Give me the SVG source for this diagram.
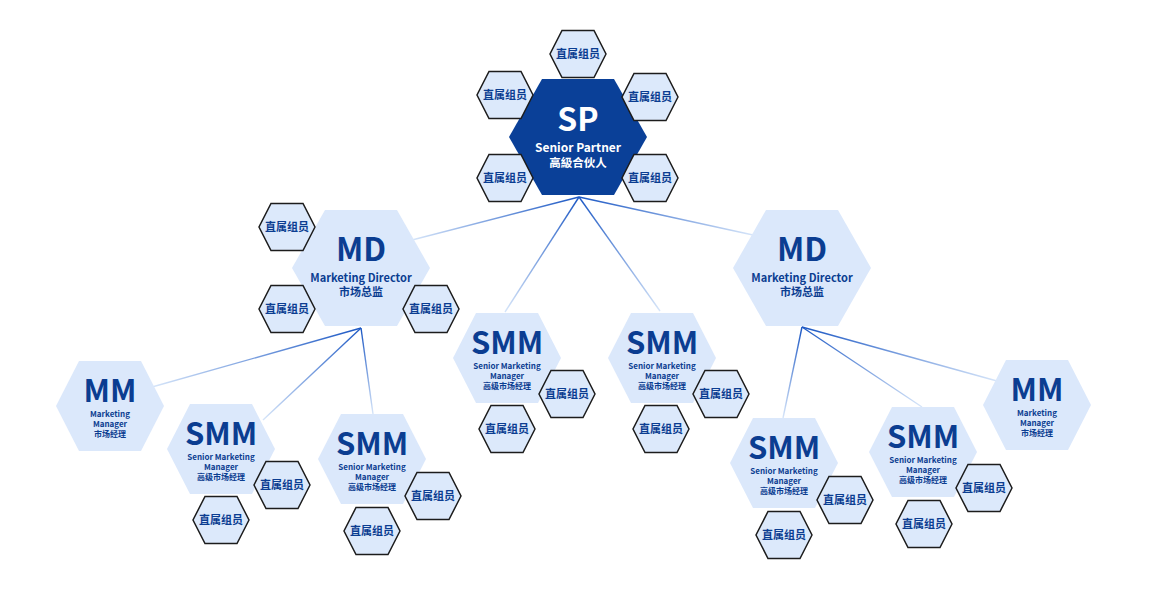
<svg xmlns="http://www.w3.org/2000/svg" xmlns:xlink="http://www.w3.org/1999/xlink" width="1154" height="592" viewBox="0 0 1154 592">
<style>
  .bg{fill:#ffffff}
  .lt{fill:#dbe8fb}
  .dk{fill:#0a4098}
  .sm{fill:#dce9fb;stroke:#1c1c1c;stroke-width:1.5}
  text{font-family:"Noto Sans CJK SC","Noto Sans",sans-serif;font-weight:700;text-anchor:middle}
  .big{font-size:32px;fill:#0b3d91}
  .mid{font-size:31px;fill:#0b3d91}
  .sub{font-size:11px;fill:#0b3d91}
  .tiny{font-size:8px;fill:#0b3d91}
  .w{fill:#ffffff}
  .st{font-size:11px;fill:#0b3d91}
  .cn{fill:none;stroke-width:1.4}
</style>
<defs>
  <polygon id="hL" points="69,0 36,58 -36,58 -69,0 -36,-58 36,-58"/>
  <polygon id="hM" points="54,0 31,45 -31,45 -54,0 -31,-45 31,-45"/>
  <polygon id="hS" points="28,0 16,23.5 -16,23.5 -28,0 -16,-23.5 16,-23.5"/>
  <linearGradient id="g1" gradientUnits="userSpaceOnUse" x1="579" y1="197" x2="412" y2="240"><stop offset="0" stop-color="#1b57c4"/><stop offset="1" stop-color="#d6e5f9"/></linearGradient>
  <linearGradient id="g2" gradientUnits="userSpaceOnUse" x1="579" y1="197" x2="753" y2="235"><stop offset="0" stop-color="#1b57c4"/><stop offset="1" stop-color="#d6e5f9"/></linearGradient>
  <linearGradient id="g3" gradientUnits="userSpaceOnUse" x1="579" y1="197" x2="505" y2="312"><stop offset="0" stop-color="#1b57c4"/><stop offset="1" stop-color="#d6e5f9"/></linearGradient>
  <linearGradient id="g4" gradientUnits="userSpaceOnUse" x1="579" y1="197" x2="660" y2="311"><stop offset="0" stop-color="#1b57c4"/><stop offset="1" stop-color="#d6e5f9"/></linearGradient>
  <linearGradient id="g5" gradientUnits="userSpaceOnUse" x1="361" y1="328" x2="152" y2="387"><stop offset="0" stop-color="#1b57c4"/><stop offset="1" stop-color="#d6e5f9"/></linearGradient>
  <linearGradient id="g6" gradientUnits="userSpaceOnUse" x1="361" y1="328" x2="263" y2="420"><stop offset="0" stop-color="#1b57c4"/><stop offset="1" stop-color="#d6e5f9"/></linearGradient>
  <linearGradient id="g7" gradientUnits="userSpaceOnUse" x1="361" y1="328" x2="373" y2="414"><stop offset="0" stop-color="#1b57c4"/><stop offset="1" stop-color="#d6e5f9"/></linearGradient>
  <linearGradient id="g8" gradientUnits="userSpaceOnUse" x1="802" y1="327" x2="783" y2="418"><stop offset="0" stop-color="#1b57c4"/><stop offset="1" stop-color="#d6e5f9"/></linearGradient>
  <linearGradient id="g9" gradientUnits="userSpaceOnUse" x1="802" y1="327" x2="922" y2="407"><stop offset="0" stop-color="#1b57c4"/><stop offset="1" stop-color="#d6e5f9"/></linearGradient>
  <linearGradient id="g10" gradientUnits="userSpaceOnUse" x1="802" y1="327" x2="997" y2="381"><stop offset="0" stop-color="#1b57c4"/><stop offset="1" stop-color="#d6e5f9"/></linearGradient>
</defs>
<rect class="bg" x="0" y="0" width="1154" height="592"/>

<g id="connectors">
  <line class="cn" stroke="url(#g1)" x1="579" y1="197" x2="412" y2="240"/>
  <line class="cn" stroke="url(#g2)" x1="579" y1="197" x2="753" y2="235"/>
  <line class="cn" stroke="url(#g3)" x1="579" y1="197" x2="505" y2="312"/>
  <line class="cn" stroke="url(#g4)" x1="579" y1="197" x2="660" y2="311"/>
  <line class="cn" stroke="url(#g5)" x1="361" y1="328" x2="152" y2="387"/>
  <line class="cn" stroke="url(#g6)" x1="361" y1="328" x2="263" y2="420"/>
  <line class="cn" stroke="url(#g7)" x1="361" y1="328" x2="373" y2="414"/>
  <line class="cn" stroke="url(#g8)" x1="802" y1="327" x2="783" y2="418"/>
  <line class="cn" stroke="url(#g9)" x1="802" y1="327" x2="922" y2="407"/>
  <line class="cn" stroke="url(#g10)" x1="802" y1="327" x2="997" y2="381"/>
</g>

<g id="sp">
  <use href="#hL" class="dk" transform="translate(578,137)"/>
  <text class="big w" x="578" y="131">SP</text>
  <text class="w" x="578" y="152" font-size="12">Senior Partner</text>
  <text class="w" x="578" y="167" font-size="11.5">高級合伙人</text>
</g>
<g id="sp-m1"><use href="#hS" class="sm" transform="translate(578,54)"/><text class="st" x="578" y="58">直属组员</text></g>
<g id="sp-m2"><use href="#hS" class="sm" transform="translate(505,95)"/><text class="st" x="505" y="99">直属组员</text></g>
<g id="sp-m3"><use href="#hS" class="sm" transform="translate(650,97)"/><text class="st" x="650" y="101">直属组员</text></g>
<g id="sp-m4"><use href="#hS" class="sm" transform="translate(505,178)"/><text class="st" x="505" y="182">直属组员</text></g>
<g id="sp-m5"><use href="#hS" class="sm" transform="translate(650,178)"/><text class="st" x="650" y="182">直属组员</text></g>

<g id="md-left">
  <use href="#hL" class="lt" transform="translate(361,268)"/>
  <text class="big" x="361" y="261">MD</text>
  <text class="sub" x="361" y="282">Marketing Director</text>
  <text class="sub" x="361" y="296">市场总监</text>
</g>
<g id="mdl-m1"><use href="#hS" class="sm" transform="translate(287,227)"/><text class="st" x="287" y="231">直属组员</text></g>
<g id="mdl-m2"><use href="#hS" class="sm" transform="translate(287,309)"/><text class="st" x="287" y="313">直属组员</text></g>
<g id="mdl-m3"><use href="#hS" class="sm" transform="translate(431,309)"/><text class="st" x="431" y="313">直属组员</text></g>

<g id="md-right">
  <use href="#hL" class="lt" transform="translate(802,268)"/>
  <text class="big" x="802" y="261">MD</text>
  <text class="sub" x="802" y="282">Marketing Director</text>
  <text class="sub" x="802" y="296">市场总监</text>
</g>

<g id="smm-c1">
  <use href="#hM" class="lt" transform="translate(507,358)"/>
  <text class="mid" x="507" y="354">SMM</text>
  <text class="tiny" x="507" y="369">Senior Marketing</text>
  <text class="tiny" x="507" y="378.5">Manager</text>
  <text class="tiny" x="507" y="388.5">高级市场经理</text>
</g>
<g id="smmc1-m1"><use href="#hS" class="sm" transform="translate(567,394)"/><text class="st" x="567" y="398">直属组员</text></g>
<g id="smmc1-m2"><use href="#hS" class="sm" transform="translate(507,429)"/><text class="st" x="507" y="433">直属组员</text></g>

<g id="smm-c2">
  <use href="#hM" class="lt" transform="translate(662,358)"/>
  <text class="mid" x="662" y="354">SMM</text>
  <text class="tiny" x="662" y="369">Senior Marketing</text>
  <text class="tiny" x="662" y="378.5">Manager</text>
  <text class="tiny" x="662" y="388.5">高级市场经理</text>
</g>
<g id="smmc2-m1"><use href="#hS" class="sm" transform="translate(721,394)"/><text class="st" x="721" y="398">直属组员</text></g>
<g id="smmc2-m2"><use href="#hS" class="sm" transform="translate(661,429)"/><text class="st" x="661" y="433">直属组员</text></g>

<g id="mm-left">
  <use href="#hM" class="lt" transform="translate(110,406)"/>
  <text class="mid" x="110" y="402">MM</text>
  <text class="tiny" x="110" y="417">Marketing</text>
  <text class="tiny" x="110" y="426.5">Manager</text>
  <text class="tiny" x="110" y="437">市场经理</text>
</g>

<g id="smm-l1">
  <use href="#hM" class="lt" transform="translate(221,449)"/>
  <text class="mid" x="221" y="445">SMM</text>
  <text class="tiny" x="221" y="460">Senior Marketing</text>
  <text class="tiny" x="221" y="469.5">Manager</text>
  <text class="tiny" x="221" y="479.5">高级市场经理</text>
</g>
<g id="smml1-m1"><use href="#hS" class="sm" transform="translate(282,485)"/><text class="st" x="282" y="489">直属组员</text></g>
<g id="smml1-m2"><use href="#hS" class="sm" transform="translate(221,520)"/><text class="st" x="221" y="524">直属组员</text></g>

<g id="smm-l2">
  <use href="#hM" class="lt" transform="translate(372,459)"/>
  <text class="mid" x="372" y="455">SMM</text>
  <text class="tiny" x="372" y="470">Senior Marketing</text>
  <text class="tiny" x="372" y="479.5">Manager</text>
  <text class="tiny" x="372" y="489.5">高级市场经理</text>
</g>
<g id="smml2-m1"><use href="#hS" class="sm" transform="translate(433,496)"/><text class="st" x="433" y="500">直属组员</text></g>
<g id="smml2-m2"><use href="#hS" class="sm" transform="translate(372,531)"/><text class="st" x="372" y="535">直属组员</text></g>

<g id="smm-r1">
  <use href="#hM" class="lt" transform="translate(784,463)"/>
  <text class="mid" x="784" y="459">SMM</text>
  <text class="tiny" x="784" y="474">Senior Marketing</text>
  <text class="tiny" x="784" y="483.5">Manager</text>
  <text class="tiny" x="784" y="493.5">高级市场经理</text>
</g>
<g id="smmr1-m1"><use href="#hS" class="sm" transform="translate(845,500)"/><text class="st" x="845" y="504">直属组员</text></g>
<g id="smmr1-m2"><use href="#hS" class="sm" transform="translate(784,535)"/><text class="st" x="784" y="539">直属组员</text></g>

<g id="smm-r2">
  <use href="#hM" class="lt" transform="translate(923,452)"/>
  <text class="mid" x="923" y="448">SMM</text>
  <text class="tiny" x="923" y="463">Senior Marketing</text>
  <text class="tiny" x="923" y="472.5">Manager</text>
  <text class="tiny" x="923" y="482.5">高级市场经理</text>
</g>
<g id="smmr2-m1"><use href="#hS" class="sm" transform="translate(984,488)"/><text class="st" x="984" y="492">直属组员</text></g>
<g id="smmr2-m2"><use href="#hS" class="sm" transform="translate(924,524)"/><text class="st" x="924" y="528">直属组员</text></g>

<g id="mm-right">
  <use href="#hM" class="lt" transform="translate(1037,405)"/>
  <text class="mid" x="1037" y="401">MM</text>
  <text class="tiny" x="1037" y="416">Marketing</text>
  <text class="tiny" x="1037" y="425.5">Manager</text>
  <text class="tiny" x="1037" y="436">市场经理</text>
</g>
</svg>
